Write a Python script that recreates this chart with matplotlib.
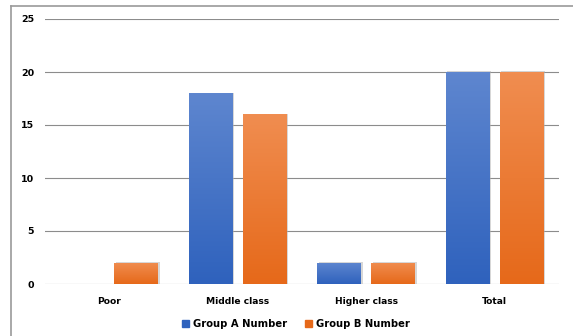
import matplotlib
matplotlib.use('Agg')
import matplotlib.pyplot as plt
from matplotlib.patches import Rectangle
from matplotlib.lines import Line2D
import numpy as np

categories = ['Poor', 'Middle class', 'Higher class', 'Total']
group_a = [0, 18, 2, 20]
group_b = [2, 16, 2, 20]
series_names = ['Group A Number', 'Group B Number']
yticks = [0, 5, 10, 15, 20, 25]

blue_top, blue_bot = '#5e86cf', '#2f62bd'
orange_top, orange_bot = '#f08d50', '#e6691a'

fig = plt.figure(figsize=(5.73, 3.36), dpi=100)
W, H = 573, 336
ax = fig.add_axes([45 / W, 1 - 284 / H, (559 - 45) / W, (284 - 19) / H])

# outer chart border (top and left only visible)
fig.add_artist(Line2D([11 / W, 11 / W], [0, 1 - 6 / H], color='#9a9a9a', lw=1.2))
fig.add_artist(Line2D([11 / W, 1], [1 - 6 / H, 1 - 6 / H], color='#9a9a9a', lw=1.2))

x = np.arange(len(categories))
bw = 0.34
gap = 0.08


def grad_bar(xc, h, c_top, c_bot):
    if h <= 0:
        return
    x0 = xc - bw / 2
    # soft shadow
    ax.add_patch(Rectangle((x0 + 0.012, 0), bw, h + 0.05, color='#b0b0b0',
                           alpha=0.5, lw=0, zorder=2))
    rect = Rectangle((x0, 0), bw, h, facecolor='none', edgecolor='none', zorder=3)
    ax.add_patch(rect)
    t = np.array(matplotlib.colors.to_rgb(c_top))
    b = np.array(matplotlib.colors.to_rgb(c_bot))
    f = np.linspace(0, 1, 64)[:, None]
    img = (t * (1 - f) + b * f)[:, None, :]
    im = ax.imshow(img, extent=[x0, x0 + bw, 0, h], aspect='auto',
                   origin='upper', zorder=3, interpolation='bilinear')
    im.set_clip_path(rect)


for i in range(len(categories)):
    grad_bar(x[i] - gap / 2 - bw / 2, group_a[i], blue_top, blue_bot)
    grad_bar(x[i] + gap / 2 + bw / 2, group_b[i], orange_top, orange_bot)

ax.set_xlim(-0.5, len(categories) - 0.5)
ax.set_ylim(0, 25)
ax.set_yticks(yticks)
ax.set_yticklabels([str(v) for v in yticks], fontsize=6.8, fontweight='bold')
ax.set_xticks(x)
ax.set_xticklabels(categories, fontsize=6.6, fontweight='bold')
ax.tick_params(length=0)
ax.tick_params(axis='y', pad=8)
ax.tick_params(axis='x', pad=9)
for s in ax.spines.values():
    s.set_visible(False)
ax.set_axisbelow(True)
ax.grid(axis='y', color='#8c8c8c', lw=0.8)
ax.grid(axis='x', visible=False)

handles = [Rectangle((0, 0), 1, 1, color=blue_bot), Rectangle((0, 0), 1, 1, color=orange_bot)]
fig.legend(handles, series_names, loc='center', bbox_to_anchor=(296 / W, 1 - 324 / H),
           ncol=2, frameon=False, prop={'size': 7.2, 'weight': 'bold'},
           handlelength=0.7, handleheight=0.7, handletextpad=0.4, columnspacing=1.8)

fig.savefig('out.png', dpi=100)
